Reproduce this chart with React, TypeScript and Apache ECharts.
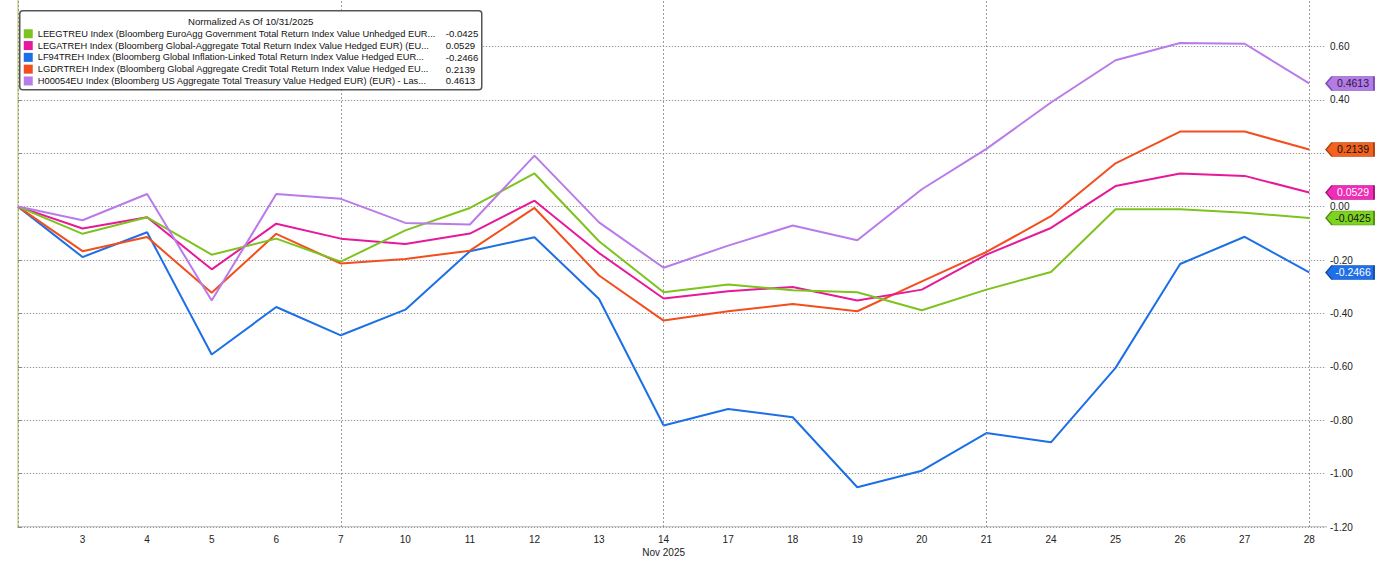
import React, { useEffect, useRef } from "react";
import * as echarts from "echarts";

const days = ["31", "3", "4", "5", "6", "7", "10", "11", "12", "13", "14", "17", "18", "19", "20", "21", "24", "25", "26", "27", "28"];
const weekLines = ["31", "7", "14", "21", "28"];
const monthLabelDay = "14";
const monthLabel = "Nov 2025";
const legendTitle = "Normalized As Of 10/31/2025";

const green = [0, -0.102, -0.04, -0.18, -0.12, -0.206, -0.089, -0.005, 0.124, -0.13, -0.321, -0.292, -0.313, -0.321, -0.388, -0.311, -0.245, -0.01, -0.01, -0.023, -0.0425];
const magenta = [0, -0.082, -0.04, -0.235, -0.064, -0.12, -0.14, -0.101, 0.022, -0.174, -0.344, -0.317, -0.301, -0.352, -0.311, -0.18, -0.08, 0.077, 0.124, 0.115, 0.0529];
const blue = [0, -0.189, -0.096, -0.554, -0.376, -0.482, -0.386, -0.167, -0.115, -0.346, -0.82, -0.758, -0.789, -1.051, -0.989, -0.848, -0.883, -0.604, -0.215, -0.113, -0.2466];
const orange = [0, -0.167, -0.114, -0.323, -0.102, -0.213, -0.196, -0.165, -0.005, -0.258, -0.427, -0.392, -0.365, -0.392, -0.28, -0.17, -0.036, 0.162, 0.281, 0.281, 0.2139];
const purple = [0, -0.051, 0.047, -0.352, 0.047, 0.029, -0.061, -0.067, 0.191, -0.059, -0.229, -0.146, -0.071, -0.126, 0.065, 0.216, 0.39, 0.548, 0.613, 0.61, 0.4613];

const seriesNames = [
  "LEEGTREU Index (Bloomberg EuroAgg Government Total Return Index Value Unhedged EUR...",
  "LEGATREH Index (Bloomberg Global-Aggregate Total Return Index Value Hedged EUR) (EU...",
  "LF94TREH Index (Bloomberg Global Inflation-Linked Total Return Index Value Hedged EUR...",
  "LGDRTREH Index (Bloomberg Global Aggregate Credit Total Return Index Value Hedged EU...",
  "H00054EU Index (Bloomberg US Aggregate Total Treasury Value Hedged EUR) (EUR) - Las...",
];
const seriesData = [green, magenta, blue, orange, purple];
const lineColors = ["#7DC31E", "#E6199A", "#1C6FE6", "#F24E1E", "#B97AEA"];
const tagColors = ["#7ED321", "#F02CB8", "#1E6FE8", "#F2611D", "#B27BE6"];
const tagBorders = ["#4d8a10", "#a01478", "#0f4aa8", "#a8400f", "#7a4ab0"];
const tagText = ["#111", "#fff", "#fff", "#111", "#2a1a40"];
const drawOrder = [2, 3, 1, 0, 4];

const FONT = "Liberation Sans";

export default function App() {
  const ref = useRef<HTMLDivElement>(null);
  useEffect(() => {
    document.body.style.margin = "0";
    const chart = echarts.init(ref.current!, null, { renderer: "svg" });
    const xMax = 20.26;
    const lastValues = seriesData.map((s) => s[s.length - 1]);

    const series: any[] = drawOrder.map((i, k) => ({
      type: "line",
      name: seriesNames[i],
      data: seriesData[i].map((v, j) => [j, v]),
      showSymbol: false,
      symbol: "none",
      lineStyle: { color: lineColors[i], width: 2 },
      itemStyle: { color: lineColors[i] },
      z: 3 + k,
      markPoint: {
        symbol: "path://M0,7 L6,0 L48,0 L48,14 L6,14 Z",
        symbolSize: [48, 14],
        symbolOffset: ["50%", 0],
        itemStyle: { color: tagColors[i], borderColor: tagBorders[i], borderWidth: 1 },
        label: {
          show: true,
          position: "inside",
          offset: [3, 0],
          color: tagText[i],
          fontSize: 10.5,
          fontFamily: FONT,
          formatter: (p: any) => Number(p.value).toFixed(4),
        },
        data: [{ coord: [xMax, lastValues[i]], value: lastValues[i] }],
        silent: true,
      },
    }));

    series.unshift({
      type: "line",
      data: [],
      markLine: {
        silent: true,
        symbol: "none",
        label: { show: false },
        lineStyle: { color: "#9a9a9a", type: [2, 2], width: 1 },
        data: weekLines.map((d) => ({ xAxis: days.indexOf(d) })),
      },
    });

    const legendRows: any[] = [];
    seriesNames.forEach((name, i) => {
      const y = 18.5 + i * 11.8;
      legendRows.push({
        type: "rect",
        shape: { x: 4, y: y, width: 9, height: 9 },
        style: { fill: lineColors[i] },
      });
      legendRows.push({
        type: "text",
        x: 18,
        y: y + 4.5,
        style: { text: name, fill: "#111", font: `9.3px "${FONT}"`, verticalAlign: "middle" },
      });
      legendRows.push({
        type: "text",
        x: 426,
        y: y + 4.5,
        style: { text: lastValues[i].toFixed(4), fill: "#111", font: `9.6px "${FONT}"`, verticalAlign: "middle" },
      });
    });

    const yCommon = { type: "value", min: -1.2, max: 0.8, interval: 0.2 };

    chart.setOption({
      animation: false,
      backgroundColor: "#fff",
      grid: { left: 18, right: 73, top: -7, bottom: 48, containLabel: false, outerBoundsMode: "none" },
      xAxis: {
        type: "value",
        min: 0,
        max: xMax,
        interval: 1,
        axisLine: { show: true, onZero: false, lineStyle: { color: "#c8c8c8", width: 2 } },
        axisTick: { show: false },
        splitLine: { show: false },
        axisLabel: {
          showMaxLabel: false,
          color: "#222",
          fontSize: 10,
          fontFamily: FONT,
          margin: 6,
          lineHeight: 13,
          formatter: (v: number) => {
            const d = days[Math.round(v)];
            if (!d || v === 0) return "";
            return d === monthLabelDay ? `${d}\n${monthLabel}` : d;
          },
        },
      },
      yAxis: [
        {
          ...yCommon,
          position: "right",
          axisLine: { show: true, lineStyle: { color: "#cdd48e", width: 1.5 } },
          axisTick: { show: true, length: 4, lineStyle: { color: "#888" } },
          splitLine: { show: true, lineStyle: { color: "#9a9a9a", type: [1, 2], width: 1 } },
          axisLabel: {
            showMaxLabel: false,
            color: "#222",
            fontSize: 10,
            fontFamily: FONT,
            margin: 4,
            formatter: (v: number) =>
              lastValues.some((lv) => Math.abs(lv - v) < 0.03) ? "" : v.toFixed(2),
          },
          z: 2,
        },
        {
          ...yCommon,
          position: "left",
          axisLine: { show: false },
          axisTick: { show: false },
          axisLabel: { show: false },
          splitLine: { show: true, lineStyle: { color: "#ececec", type: "solid", width: 1 } },
          z: 1,
        },
      ],
      series,
      graphic: [
        {
          type: "group",
          left: 19,
          top: 10,
          z: 100,
          children: [
            {
              type: "rect",
              z: 100,
              shape: { x: 0, y: 0, width: 462, height: 79, r: 3 },
              style: { fill: "#fff", stroke: "#555", lineWidth: 1.5 },
            },
            {
              type: "text",
              z: 101,
              x: 231,
              y: 11,
              style: { text: legendTitle, fill: "#111", font: `9.6px "${FONT}"`, align: "center", verticalAlign: "middle" },
            },
            ...legendRows.map((r) => ({ ...r, z: 101 })),
          ],
        },
      ],
    });
    return () => chart.dispose();
  }, []);
  return <div ref={ref} style={{ width: 1399, height: 575 }} />;
}
